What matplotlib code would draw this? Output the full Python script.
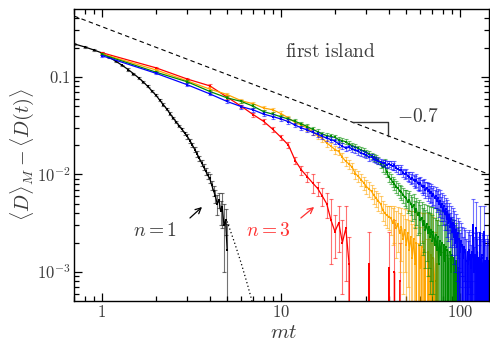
import numpy as np
import matplotlib
matplotlib.use("Agg")
import matplotlib.pyplot as plt
from matplotlib.ticker import FixedLocator, FixedFormatter, LogLocator, NullFormatter

# ---- data ----
# n = 1 (black), fine time grid
black_t = np.round(np.arange(7, 51) / 10.0, 1)
black_y = [0.218, 0.203, 0.189, 0.176, 0.159, 0.144, 0.131, 0.119, 0.108, 0.098,
           0.089, 0.080, 0.072, 0.065, 0.058, 0.052, 0.047, 0.042, 0.038, 0.0345,
           0.0315, 0.0290, 0.0265, 0.0245, 0.0222, 0.0200, 0.0180, 0.0162, 0.0146, 0.0132,
           0.0119, 0.0108, 0.0098, 0.0091, 0.0078, 0.0068, 0.0060, 0.0050, 0.0055, 0.0042,
           0.0046, 0.0030, 0.0034, 0.0017]
black_err = [0.004, 0.004, 0.004, 0.004, 0.003, 0.003, 0.003, 0.003, 0.0025, 0.0025,
             0.002, 0.002, 0.002, 0.0018, 0.0016, 0.0015, 0.0014, 0.0013, 0.0012, 0.0011,
             0.001, 0.001, 0.001, 0.0012, 0.0011, 0.001, 0.001, 0.001, 0.0009, 0.0009,
             0.0009, 0.0009, 0.0009, 0.0009, 0.0008, 0.0008, 0.0009, 0.0012, 0.0010, 0.0012,
             0.0018, 0.0020, 0.0010, 0.0014]

# dotted continuation of the n = 1 decay
fit_t = [5.0, 5.5, 6.0, 6.5, 7.0]
fit_y = [0.0033, 0.0020, 0.00122, 0.00074, 0.00045]

# n = 3 (red)
red_t = np.arange(1, 47)
red_y = [0.177, 0.124, 0.095, 0.081, 0.062, 0.050, 0.041, 0.035, 0.029, 0.024,
         0.020, 0.0139, 0.0111, 0.0095, 0.0082, 0.0072, 0.0060, 0.0050, 0.0034, 0.0026,
         0.0032, 0.0020, 0.0028, 0.0012, 0, 0, 0, 0, 0, 0,
         0.0012, 0, 0, 0, 0, 0, 0, 0, 0, 0.0011,
         0, 0, 0.0010, 0, 0, 0.0008]
red_err = [0.003, 0.003, 0.003, 0.003, 0.0025, 0.002, 0.002, 0.0018, 0.0016, 0.0015,
           0.0014, 0.0012, 0.0012, 0.0012, 0.0018, 0.0012, 0.0012, 0.0014, 0.0022, 0.0012,
           0.0016, 0.0014, 0.0020, 0.0011, 0, 0, 0, 0, 0, 0,
           0.0014, 0, 0, 0, 0, 0, 0, 0, 0, 0.0015,
           0, 0, 0.0024, 0, 0, 0.0012]

# orange
orange_t = np.arange(1, 76)
orange_y = [0.172, 0.118, 0.091, 0.075, 0.066, 0.057, 0.053, 0.048, 0.046, 0.042,
            0.038, 0.034, 0.032, 0.030, 0.0275, 0.025, 0.0235, 0.021, 0.0195, 0.018,
            0.0172, 0.015, 0.0136, 0.0128, 0.0118, 0.0102, 0.0096, 0.0088, 0.0082, 0.0075,
            0.0071, 0.0067, 0.0061, 0.0057, 0.0053, 0.0050, 0.0043, 0.0040, 0.0038, 0.0037,
            0.0036, 0.0032, 0.0034, 0.0028, 0.0031, 0.0025, 0.0029, 0.0022, 0.0027, 0.0019,
            0.0025, 0.0017, 0.0023, 0.0014, 0.0022, 0.0012, 0.0020, 0, 0.0019, 0.0011,
            0.0018, 0, 0.0017, 0.0010, 0, 0.0016, 0.0009, 0, 0.0015, 0,
            0.0014, 0.0008, 0, 0.0012, 0]
orange_err = [0.004, 0.003, 0.003, 0.003, 0.003, 0.0025, 0.0025, 0.0025, 0.0025, 0.0025,
              0.0022, 0.002, 0.002, 0.002, 0.0019, 0.0018, 0.0018, 0.0017, 0.0016, 0.0016,
              0.0015, 0.0015, 0.0014, 0.0014, 0.0014, 0.0013, 0.0013, 0.0012, 0.0012, 0.0012,
              0.0012, 0.0011, 0.0011, 0.0011, 0.0011, 0.001, 0.001, 0.001, 0.001, 0.001,
              0.0012, 0.0013, 0.0014, 0.0014, 0.0015, 0.0015, 0.0016, 0.0016, 0.0017, 0.0016,
              0.0018, 0.0017, 0.0019, 0.0017, 0.0020, 0.0017, 0.0021, 0.0020, 0.0022, 0.0018,
              0.0022, 0.0021, 0.0023, 0.0019, 0.0022, 0.0024, 0.0019, 0.0022, 0.0024, 0.0020,
              0.0023, 0.0018, 0.0020, 0.0022, 0.0018]

# green
green_t = np.arange(1, 101)
green_y = [0.170, 0.112, 0.089, 0.071, 0.061, 0.056, 0.050, 0.044, 0.0415, 0.039,
           0.037, 0.035, 0.033, 0.031, 0.029, 0.0275, 0.026, 0.025, 0.0245, 0.024,
           0.0228, 0.0222, 0.0216, 0.0205, 0.0198, 0.0192, 0.0185, 0.0178, 0.0174, 0.0168,
           0.0162, 0.0155, 0.0150, 0.0146, 0.0140, 0.0128, 0.0118, 0.0122, 0.0105, 0.0094,
           0.0090, 0.0084, 0.0080, 0.0075, 0.0072, 0.0068, 0.0066, 0.0062, 0.0059, 0.0057,
           0.0052, 0.0055, 0.0050, 0.0046, 0.0049, 0.0041, 0.0044, 0.0038, 0.0040, 0.0034,
           0.0036, 0.0030, 0.0033, 0.0027, 0.0031, 0.0025, 0.0029, 0.0023, 0.0027, 0.0021,
           0.0026, 0.0019, 0.0024, 0.0017, 0.0023, 0.0012, 0.0021, 0.0015, 0.0020, 0,
           0.0019, 0.0013, 0.0018, 0, 0.0017, 0.0012, 0, 0.0016, 0.0010, 0.0015,
           0, 0.0014, 0.0009, 0, 0.0013, 0, 0.0011, 0, 0.0010, 0]
green_err = [0.004, 0.003, 0.003, 0.003, 0.0025, 0.0025, 0.0025, 0.002, 0.002, 0.002,
             0.002, 0.0018, 0.0018, 0.0017, 0.0016, 0.0016, 0.0015, 0.0015, 0.0015, 0.0014,
             0.0014, 0.0014, 0.0013, 0.0013, 0.0013, 0.0013, 0.0012, 0.0012, 0.0012, 0.0012,
             0.0012, 0.0012, 0.0011, 0.0011, 0.0011, 0.0011, 0.0011, 0.0022, 0.0011, 0.0011,
             0.001, 0.001, 0.001, 0.001, 0.001, 0.001, 0.0011, 0.0011, 0.0011, 0.0012,
             0.0012, 0.0013, 0.0012, 0.0013, 0.0014, 0.0013, 0.0014, 0.0014, 0.0015, 0.0015,
             0.0016, 0.0015, 0.0017, 0.0016, 0.0018, 0.0016, 0.0018, 0.0017, 0.0019, 0.0017,
             0.0020, 0.0017, 0.0021, 0.0017, 0.0021, 0.0018, 0.0022, 0.0018, 0.0022, 0.0016,
             0.0022, 0.0018, 0.0022, 0.0015, 0.0021, 0.0018, 0.0014, 0.0021, 0.0017, 0.0020,
             0.0012, 0.0020, 0.0016, 0.0012, 0.0019, 0.0011, 0.0018, 0.0010, 0.0017, 0.0010]

# blue
blue_t = np.arange(1, 146)
blue_y = [0.165, 0.109, 0.083, 0.067, 0.056, 0.0496, 0.0459, 0.0415, 0.0392, 0.037,
          0.0348, 0.032, 0.030, 0.0286, 0.027, 0.0258, 0.0245, 0.0236, 0.0228, 0.022,
          0.0205, 0.0195, 0.0186, 0.0190, 0.0182, 0.0178, 0.0172, 0.0166, 0.0162, 0.0159,
          0.0150, 0.0152, 0.0145, 0.0141, 0.0138, 0.0134, 0.0132, 0.0130, 0.0126, 0.0128,
          0.0125, 0.0121, 0.0124, 0.0116, 0.0113, 0.0110, 0.0112, 0.0104, 0.0101, 0.0103,
          0.0096, 0.0095, 0.0090, 0.0093, 0.0087, 0.0085, 0.0088, 0.0081, 0.0079, 0.0082,
          0.0076, 0.0074, 0.0077, 0.0070, 0.0072, 0.0067, 0.0069, 0.0064, 0.0066, 0.0060,
          0.0063, 0.0057, 0.0060, 0.0054, 0.0057, 0.0050, 0.0054, 0.0046, 0.0050, 0.0042,
          0.0047, 0.0039, 0.0044, 0.0035, 0.0041, 0.0032, 0.0038, 0.0029, 0.0035, 0.0026,
          0.0032, 0.0023, 0.0030, 0.0020, 0.0027, 0.0018, 0.0025, 0, 0.0022, 0.0016,
          0.0021, 0, 0.0019, 0.0014, 0.0018, 0, 0.0017, 0.0013, 0, 0.0016,
          0.0012, 0.0017, 0, 0.0015, 0.0011, 0.0016, 0, 0.0030, 0.0014, 0.0010,
          0.0015, 0, 0.0028, 0.0013, 0.0016, 0, 0.0014, 0.0011, 0.0025, 0,
          0.0013, 0.0015, 0, 0.0012, 0.0014, 0.0026, 0, 0.0013, 0.0011, 0,
          0.0014, 0.0012, 0, 0.0013, 0.0011]
blue_err = [0.004, 0.003, 0.003, 0.0025, 0.0025, 0.0022, 0.002, 0.002, 0.002, 0.0018,
            0.0018, 0.0017, 0.0016, 0.0016, 0.0015, 0.0015, 0.0014, 0.0014, 0.0014, 0.0013,
            0.0013, 0.0013, 0.0012, 0.0012, 0.0012, 0.0012, 0.0012, 0.0011, 0.0011, 0.0011,
            0.0011, 0.0011, 0.0011, 0.001, 0.001, 0.001, 0.001, 0.001, 0.001, 0.001,
            0.0011, 0.001, 0.0012, 0.001, 0.0011, 0.001, 0.0012, 0.001, 0.0011, 0.0012,
            0.0011, 0.0012, 0.001, 0.0012, 0.0011, 0.0012, 0.0013, 0.0011, 0.0012, 0.0013,
            0.0012, 0.0013, 0.0012, 0.0013, 0.0012, 0.0014, 0.0012, 0.0013, 0.0014, 0.0012,
            0.0014, 0.0012, 0.0015, 0.0013, 0.0014, 0.0013, 0.0015, 0.0013, 0.0014, 0.0012,
            0.0014, 0.0012, 0.0014, 0.0012, 0.0014, 0.0011, 0.0013, 0.0011, 0.0013, 0.0011,
            0.0013, 0.0011, 0.0012, 0.001, 0.0012, 0.001, 0.0011, 0.0010, 0.0011, 0.0009,
            0.0011, 0.0009, 0.0010, 0.0009, 0.0010, 0.0008, 0.0010, 0.0009, 0.0008, 0.0010,
            0.0009, 0.0010, 0.0008, 0.0009, 0.0008, 0.0010, 0.0008, 0.0026, 0.0009, 0.0008,
            0.0010, 0.0008, 0.0024, 0.0009, 0.0010, 0.0008, 0.0009, 0.0008, 0.0022, 0.0008,
            0.0009, 0.0010, 0.0008, 0.0009, 0.0010, 0.0022, 0.0008, 0.0009, 0.0008, 0.0008,
            0.0010, 0.0009, 0.0008, 0.0009, 0.0008]

# -0.7 power-law guide and its slope triangle
guide_t = [0.7, 150]
guide_y = [0.42, 0.0098]
tri_t = [25.2, 39.6, 39.6]
tri_y = [0.0342, 0.0342, 0.0249]

x_ticks = [1, 10, 100]
x_ticklabels = [r"$1$", r"$10$", r"$100$"]
y_ticks = [0.1, 0.01, 0.001]
y_ticklabels = [r"$0.1$", r"$10^{-2}$", r"$10^{-3}$"]

plt.rcParams["mathtext.fontset"] = "cm"
plt.rcParams["font.family"] = ["DejaVu Serif"]
txt = "#3c3c3c"

fig = plt.figure(figsize=(4.9, 3.42), dpi=100)
ax = fig.add_axes([0.151, 0.12, 0.847, 0.854])
ax.set_xscale("log")
ax.set_yscale("log")

# guide line + triangle
ax.plot(guide_t, guide_y, color="black", lw=0.8, ls=(0, (4, 3)))
ax.plot(tri_t, tri_y, color="#333333", lw=1.0)

series = [
    (black_t, black_y, black_err, "black"),
    (red_t, red_y, red_err, "#ff0000"),
    (orange_t, orange_y, orange_err, "#ffa500"),
    (green_t, green_y, green_err, "#008c00"),
    (blue_t, blue_y, blue_err, "#0000ff"),
]
for t, y, e, c in series:
    ax.errorbar(t, y, yerr=e, fmt="none", ecolor=c, elinewidth=0.8,
                capsize=1.6, capthick=0.8, alpha=0.55)
    ax.plot(t, y, color=c, lw=0.9, marker="s", ms=2.0, mew=0)

ax.plot(fit_t, fit_y, color="black", lw=0.9, ls=(0, (1, 2)))

ax.set_xlim(0.698, 145)
ax.set_ylim(5.05e-4, 0.498)

ax.xaxis.set_major_locator(FixedLocator(x_ticks))
ax.xaxis.set_major_formatter(FixedFormatter(x_ticklabels))
ax.yaxis.set_major_locator(FixedLocator(y_ticks))
ax.yaxis.set_major_formatter(FixedFormatter(y_ticklabels))
ax.xaxis.set_minor_locator(LogLocator(base=10, subs=np.arange(2, 10), numticks=20))
ax.yaxis.set_minor_locator(LogLocator(base=10, subs=np.arange(2, 10), numticks=20))
ax.xaxis.set_minor_formatter(NullFormatter())
ax.yaxis.set_minor_formatter(NullFormatter())
ax.tick_params(which="both", direction="in", top=True, right=True, width=0.9)
ax.tick_params(which="major", length=6, labelsize=12, labelcolor=txt, pad=2.5)
ax.tick_params(which="minor", length=3.5)
for s in ax.spines.values():
    s.set_linewidth(1.0)

ax.set_xlabel(r"$mt$", fontsize=15, color=txt)
ax.xaxis.set_label_coords(0.504, -0.075)
ax.set_ylabel(r"$\langle D\rangle_M - \langle D(t)\rangle$", fontsize=14.5, color=txt)
ax.yaxis.set_label_coords(-0.092, 0.5)

ax.text(18.8, 0.18, r"$\mathrm{first\ island}$", fontsize=14, color=txt,
        ha="center", va="center")
ax.text(44.5, 0.0389, r"$-0.7$", fontsize=14, color=txt, ha="left", va="center")
ax.text(1.98, 2.63e-3, r"$n=1$", fontsize=14, color=txt, ha="center", va="center")
ax.text(8.46, 2.63e-3, r"$n=3$", fontsize=14, color="#ff3030", ha="center", va="center")

ax.annotate("", xy=(3.62, 4.64e-3), xytext=(3.10, 3.58e-3),
            arrowprops=dict(arrowstyle="->", color="black", lw=0.9,
                            shrinkA=0, shrinkB=0))
ax.annotate("", xy=(15.3, 4.64e-3), xytext=(12.9, 3.58e-3),
            arrowprops=dict(arrowstyle="->", color="#ff3030", lw=0.9,
                            shrinkA=0, shrinkB=0))

fig.savefig("out.png", dpi=100)
